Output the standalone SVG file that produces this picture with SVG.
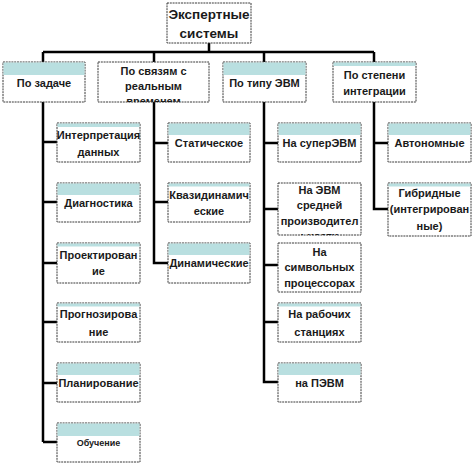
<svg xmlns="http://www.w3.org/2000/svg" width="474" height="464" viewBox="0 0 474 464">
<style>
.box{fill:#fff;stroke:#3a3a3a;stroke-width:1;stroke-dasharray:2 0.8}
.band{fill:#b9dfe0}
.t{font-family:"Liberation Sans",Arial,sans-serif;font-weight:bold;font-size:11px;fill:#1a1a1a;text-anchor:middle}
.r{font-size:13.5px}
.s{font-size:9px}
.c{fill:none;stroke:#000;stroke-width:2.5}
</style>
<defs>
<clipPath id="cp1"><rect x="98" y="62" width="111" height="40"/></clipPath>
<clipPath id="cp2"><rect x="278" y="183" width="83" height="52"/></clipPath>
</defs>
<g id="connectors">
<path class="c" d="M209,43V52M43,52H374M43,52V62M154,52V62M264,52V62M374,52V62"/>
<path class="c" d="M43,102V442M43,142H57M43,202H57M43,263H57M43,322H57M43,383H57M43,442H57"/>
<path class="c" d="M154,102V263H168M154,143H168M154,202H168"/>
<path class="c" d="M264,102V382H278M264,143H278M264,209H278M264,265H278M264,322H278"/>
<path class="c" d="M374,102V209H388M374,143H388"/>
</g>
<g id="root"><rect class="box" x="167" y="3" width="84" height="40"/><text class="t r" x="209" y="19">Экспертные</text><text class="t r" x="209" y="38">системы</text></g>
<g id="zadache"><rect class="box" x="3" y="62" width="82" height="40"/><rect class="band" x="3.5" y="62.5" width="81" height="12.5"/><text class="t" x="44" y="87">По задаче</text></g>
<g id="svyazi"><rect class="box" x="98" y="62" width="111" height="40"/><g clip-path="url(#cp1)"><text class="t" x="153.5" y="75">По связям с</text><text class="t" x="153.5" y="90">реальным</text><text class="t" x="153.5" y="105">временем</text></g></g>
<g id="tipevm"><rect class="box" x="223" y="62" width="83" height="40"/><rect class="band" x="223.5" y="62.5" width="82" height="12.5"/><text class="t" x="264.5" y="87">По типу ЭВМ</text></g>
<g id="stepen"><rect class="box" x="333" y="62" width="83" height="40"/><rect class="band" x="333.5" y="62.5" width="82" height="3.5"/><text class="t" x="374.5" y="79">По степени</text><text class="t" x="374.5" y="95">интеграции</text></g>

<g id="interp"><rect class="box" x="57" y="123" width="83" height="39"/><rect class="band" x="57.5" y="123.5" width="82" height="3.5"/><text class="t" x="98.5" y="139">Интерпретация</text><text class="t" x="98.5" y="156">данных</text></g>
<g id="diag"><rect class="box" x="57" y="183" width="83" height="39"/><rect class="band" x="57.5" y="183.5" width="82" height="11.5"/><text class="t" x="98.5" y="207">Диагностика</text></g>
<g id="proekt"><rect class="box" x="57" y="243" width="83" height="40"/><rect class="band" x="57.5" y="243.5" width="82" height="3"/><text class="t" x="98.5" y="259">Проектирован</text><text class="t" x="98.5" y="275">ие</text></g>
<g id="prognoz"><rect class="box" x="57" y="303" width="83" height="39"/><rect class="band" x="57.5" y="303.5" width="82" height="3"/><text class="t" x="98.5" y="318">Прогнозирова</text><text class="t" x="98.5" y="336">ние</text></g>
<g id="plan"><rect class="box" x="57" y="363" width="83" height="39"/><rect class="band" x="57.5" y="363.5" width="82" height="11.5"/><text class="t" x="98.5" y="387">Планирование</text></g>
<g id="obuch"><rect class="box" x="57" y="423" width="83" height="39"/><rect class="band" x="57.5" y="423.5" width="82" height="12.5"/><text class="t s" x="98.5" y="446">Обучение</text></g>

<g id="stat"><rect class="box" x="168" y="123" width="82" height="39"/><rect class="band" x="168.5" y="123.5" width="81" height="11.5"/><text class="t" x="209" y="147">Статическое</text></g>
<g id="kvazi"><rect class="box" x="168" y="183" width="82" height="39"/><rect class="band" x="168.5" y="183.5" width="81" height="3"/><text class="t" x="209" y="199">Квазидинамич</text><text class="t" x="209" y="215">еские</text></g>
<g id="dinam"><rect class="box" x="168" y="243" width="82" height="40"/><rect class="band" x="168.5" y="243.5" width="81" height="11.5"/><text class="t" x="209" y="267">Динамические</text></g>

<g id="super"><rect class="box" x="278" y="123" width="83" height="39"/><rect class="band" x="278.5" y="123.5" width="82" height="11.5"/><text class="t" x="319.5" y="147">На суперЭВМ</text></g>
<g id="sredn"><rect class="box" x="278" y="183" width="83" height="52"/><g clip-path="url(#cp2)"><text class="t" x="319.5" y="194">На ЭВМ</text><text class="t" x="319.5" y="209">средней</text><text class="t" x="319.5" y="225">производител</text><text class="t" x="319.5" y="240">ьности</text></g></g>
<g id="simv"><rect class="box" x="278" y="243" width="83" height="49"/><text class="t" x="319.5" y="256">На</text><text class="t" x="319.5" y="271">символьных</text><text class="t" x="319.5" y="287">процессорах</text></g>
<g id="rabst"><rect class="box" x="278" y="303" width="83" height="39"/><rect class="band" x="278.5" y="303.5" width="82" height="3"/><text class="t" x="319.5" y="318">На рабочих</text><text class="t" x="319.5" y="336">станциях</text></g>
<g id="pevm"><rect class="box" x="278" y="363" width="83" height="39"/><rect class="band" x="278.5" y="363.5" width="82" height="11.5"/><text class="t" x="319.5" y="387">на ПЭВМ</text></g>

<g id="avton"><rect class="box" x="388" y="123" width="83" height="39"/><rect class="band" x="388.5" y="123.5" width="82" height="11.5"/><text class="t" x="429.5" y="147">Автономные</text></g>
<g id="gibr"><rect class="box" x="388" y="183" width="83" height="53"/><rect class="band" x="388.5" y="183.5" width="82" height="3"/><text class="t" x="429.5" y="197">Гибридные</text><text class="t" x="429.5" y="213">(интегрирован</text><text class="t" x="429.5" y="230">ные)</text></g>
</svg>
